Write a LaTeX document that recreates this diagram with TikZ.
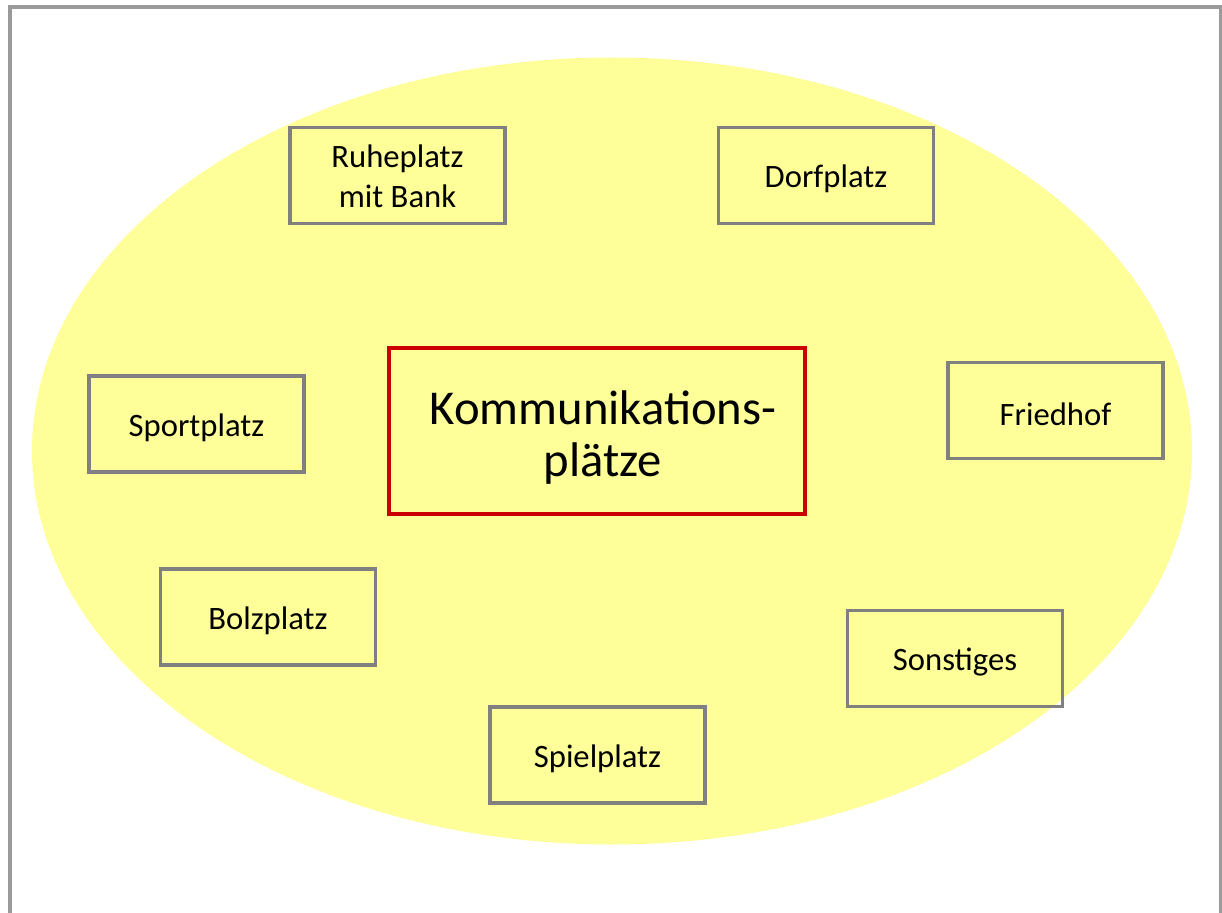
\documentclass[tikz,border=0pt]{standalone}
\usepackage{fontspec}
\setmainfont{Carlito}
\usetikzlibrary{shapes.geometric}
\definecolor{frame}{HTML}{9A9A9A}
\definecolor{boxgray}{HTML}{808080}
\definecolor{ellfill}{HTML}{FFFF99}
\definecolor{centerred}{HTML}{CC0000}
\begin{document}
\begin{tikzpicture}[x=0.75pt,y=-0.75pt,
  placebox/.style={draw=boxgray,line width=2.4pt,minimum width=215*0.75pt,minimum height=96*0.75pt,inner sep=0pt},
  place/.style={placebox,label={[align=center,font=\fontsize{24.5}{30}\selectfont,yshift=-2.5pt,inner sep=0pt]center:#1}},
  placetwo/.style={placebox,label={[align=center,font=\fontsize{24.5}{30}\selectfont,yshift=-0.3pt,inner sep=0pt]center:#1}},
  hub/.style={draw=centerred,line width=2.4pt,minimum width=416*0.75pt,minimum height=166*0.75pt,
    inner sep=0pt,label={[align=center,font=\fontsize{36.5}{39}\selectfont,xshift=4.5pt,yshift=-5pt,inner sep=0pt]center:#1}}]
\useasboundingbox (0,0) rectangle (1222,913);
\draw[frame,line width=3pt] (10,925) -- (10,7) -- (1220.5,7) -- (1220.5,925);
\node[ellipse,fill=ellfill,draw=none,minimum width=1160*0.75pt,minimum height=787*0.75pt,inner sep=0pt] (ell) at (612,451) {};
\node[hub={Kommunikations-\\plätze}] (hub) at (597,431) {};
\node[placetwo={Ruheplatz\\mit Bank}] (ruhe) at (397.5,175.5) {};
\node[place=Dorfplatz] (dorf) at (826,175.5) {};
\node[place=Friedhof] (fried) at (1055.5,410.5) {};
\node[place=Sportplatz] (sport) at (196.5,424) {};
\node[place=Bolzplatz] (bolz) at (268,617) {};
\node[place=Sonstiges] (sonst) at (955,658.5) {};
\node[place=Spielplatz] (spiel) at (597.5,755) {};
\end{tikzpicture}
\end{document}
